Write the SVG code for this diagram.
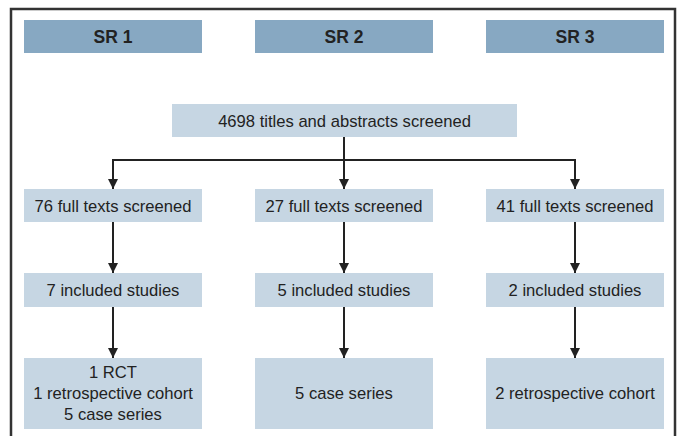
<svg xmlns="http://www.w3.org/2000/svg" width="681" height="436" viewBox="0 0 681 436">
<style>
.hdr{fill:#87a8c2}
.box{fill:#c6d6e3}
.t{font-family:"Liberation Sans",Arial,sans-serif;font-size:16.6px;fill:#222;text-anchor:middle;dominant-baseline:central}
.b{font-weight:bold;font-size:17.5px}
.ln{stroke:#222;stroke-width:2;fill:none}
</style>
<defs>
<marker id="ah" markerWidth="10" markerHeight="10" refX="10" refY="5" orient="auto" markerUnits="userSpaceOnUse" viewBox="0 0 10 10">
<path d="M0,0 L10,5 L0,10 Z" fill="#222"/>
</marker>
</defs>
<rect x="11" y="9" width="664" height="440" fill="#fff" stroke="#333" stroke-width="2.5"/>
<g id="sr1"><rect class="hdr" x="24" y="20" width="178" height="33"/><text class="t b" x="113" y="37">SR 1</text></g>
<g id="sr2"><rect class="hdr" x="255" y="20" width="178" height="33"/><text class="t b" x="344" y="37">SR 2</text></g>
<g id="sr3"><rect class="hdr" x="486" y="20" width="178" height="33"/><text class="t b" x="575" y="37">SR 3</text></g>
<g id="top"><rect class="box" x="172" y="104" width="345" height="33"/><text class="t" x="344.5" y="121">4698 titles and abstracts screened</text></g>
<g id="ft1"><rect class="box" x="24" y="189" width="178" height="33"/><text class="t" x="113" y="206">76 full texts screened</text></g>
<g id="ft2"><rect class="box" x="255" y="189" width="178" height="33"/><text class="t" x="344" y="206">27 full texts screened</text></g>
<g id="ft3"><rect class="box" x="486" y="189" width="178" height="33"/><text class="t" x="575" y="206">41 full texts screened</text></g>
<g id="inc1"><rect class="box" x="24" y="273" width="178" height="34"/><text class="t" x="113" y="290">7 included studies</text></g>
<g id="inc2"><rect class="box" x="255" y="273" width="178" height="34"/><text class="t" x="344" y="290">5 included studies</text></g>
<g id="inc3"><rect class="box" x="486" y="273" width="178" height="34"/><text class="t" x="575" y="290">2 included studies</text></g>
<g id="res1"><rect class="box" x="24" y="358" width="178" height="71"/><text class="t" x="113" y="372">1 RCT</text><text class="t" x="113" y="393">1 retrospective cohort</text><text class="t" x="113" y="414">5 case series</text></g>
<g id="res2"><rect class="box" x="255" y="358" width="178" height="71"/><text class="t" x="344" y="393">5 case series</text></g>
<g id="res3"><rect class="box" x="486" y="358" width="178" height="71"/><text class="t" x="575" y="393">2 retrospective cohort</text></g>
<g id="connectors">
<path class="ln" d="M344,137 V160"/>
<path class="ln" d="M113,160 H575"/>
<path class="ln" d="M113,159 V189" marker-end="url(#ah)"/>
<path class="ln" d="M344,160 V189" marker-end="url(#ah)"/>
<path class="ln" d="M575,159 V189" marker-end="url(#ah)"/>
<path class="ln" d="M113,222 V273" marker-end="url(#ah)"/>
<path class="ln" d="M344,222 V273" marker-end="url(#ah)"/>
<path class="ln" d="M575,222 V273" marker-end="url(#ah)"/>
<path class="ln" d="M113,307 V358" marker-end="url(#ah)"/>
<path class="ln" d="M344,307 V358" marker-end="url(#ah)"/>
<path class="ln" d="M575,307 V358" marker-end="url(#ah)"/>
</g>
</svg>
